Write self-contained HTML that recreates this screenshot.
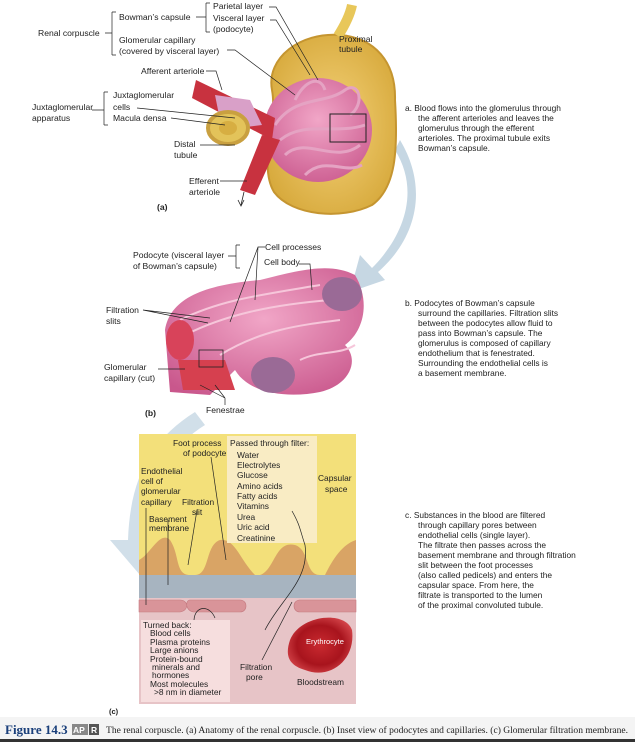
<!DOCTYPE html>
<html><head><style>
body{margin:0;background:#fff;}
svg{display:block;font-family:"Liberation Sans",Arial,sans-serif;}
</style></head><body>
<svg width="635" height="742" viewBox="0 0 635 742" xmlns="http://www.w3.org/2000/svg" font-size="8.6" fill="#222">
<defs>
<radialGradient id="cap" cx="0.5" cy="0.5" r="0.6"><stop offset="0" stop-color="#f4d27a"/><stop offset="1" stop-color="#d6a83a"/></radialGradient>
<radialGradient id="pk" cx="0.5" cy="0.4" r="0.7"><stop offset="0" stop-color="#f1a6c7"/><stop offset="1" stop-color="#c9578c"/></radialGradient>
<radialGradient id="ery" cx="0.5" cy="0.5" r="0.6"><stop offset="0" stop-color="#c92a30"/><stop offset="0.6" stop-color="#a8141d"/><stop offset="1" stop-color="#d94a4f"/></radialGradient>
</defs>
<!-- blue arrows -->
<path d="M395,150 C420,190 405,235 372,268 L360,255 L350,292 L385,280 L378,272 C415,240 430,190 400,140 Z" fill="#bcd0de" opacity="0.85"/>
<path d="M195,412 C150,440 130,480 128,540 L110,540 L140,575 L158,540 L142,540 C145,490 165,450 205,425 Z" fill="#c6d7e3" opacity="0.8"/>
<!-- Panel a -->
<path d="M272,90 C266,58 300,32 340,35 C375,38 396,62 395,100 C398,150 396,188 372,205 C342,220 292,216 274,192 C258,165 278,122 272,90Z" fill="url(#cap)" stroke="#c59530" stroke-width="2"/>
<path d="M338,36 C345,25 350,15 352,5" fill="none" stroke="#e8c75a" stroke-width="10"/>
<ellipse cx="318" cy="130" rx="54" ry="52" fill="url(#pk)"/>
<g fill="none" stroke="#e5a3c3" stroke-width="3">
<path d="M275,125 C295,95 325,105 345,90 C360,80 365,105 350,115"/>
<path d="M285,155 C305,135 335,165 360,145"/>
<path d="M295,100 C305,80 320,75 325,90"/>
<path d="M305,175 C325,155 345,175 362,165"/>
<path d="M280,140 C305,120 335,135 365,125"/>
</g>
<rect x="330" y="114" width="36" height="28" fill="none" stroke="#222" stroke-width="1"/>
<path d="M196,80 L275,118 L272,140 L192,98 Z" fill="#c8323f"/>
<path d="M215,95 L250,100 L262,125 L222,130Z" fill="#d9a0c8"/>
<ellipse cx="228" cy="128" rx="20" ry="16" fill="#e3c35a" stroke="#c9a040" stroke-width="4"/>
<ellipse cx="228" cy="128" rx="9" ry="7" fill="#d7ae42"/>
<path d="M240,190 L262,135 L280,140 L255,195 Z" fill="#c8323f"/>
<path d="M244,192 L241,205" stroke="#222" stroke-width="0.8"/>
<path d="M238,200 L241,206 L244,200" fill="none" stroke="#222" stroke-width="0.8"/>
<g stroke="#222" stroke-width="0.7" fill="none">
<path d="M105,33 H112 M112,12 V55 M112,12 H116 M112,55 H116"/>
<path d="M196,17 H206 M206,3 V32 M206,3 H210 M206,32 H210"/>
<path d="M269,7 H276 L318,80"/>
<path d="M270,20 H276 L310,75"/>
<path d="M227,50 H235 L295,95"/>
<path d="M206,71 H216 L222,90"/>
<path d="M92,110 H104 M104,92 V125 M104,92 H108 M104,125 H108"/>
<path d="M137,108 L235,118"/>
<path d="M171,118 L225,125"/>
<path d="M200,145 H235"/>
<path d="M220,181 H247"/>
</g>
<text x="38" y="36">Renal corpuscle</text>
<text x="119" y="20">Bowman’s capsule</text>
<text x="213" y="9">Parietal layer</text>
<text x="213" y="21">Visceral layer</text>
<text x="213" y="32">(podocyte)</text>
<text x="119" y="43">Glomerular capillary</text>
<text x="119" y="54">(covered by visceral layer)</text>
<text x="339" y="42">Proximal</text>
<text x="339" y="52">tubule</text>
<text x="141" y="74">Afferent arteriole</text>
<text x="32" y="110">Juxtaglomerular</text>
<text x="32" y="121">apparatus</text>
<text x="113" y="98">Juxtaglomerular</text>
<text x="113" y="110">cells</text>
<text x="113" y="121">Macula densa</text>
<text x="174" y="147">Distal</text>
<text x="174" y="158">tubule</text>
<text x="189" y="184">Efferent</text>
<text x="189" y="195">arteriole</text>
<text x="157" y="210" font-weight="bold">(a)</text>
<!-- Panel b -->
<path d="M165,330 C170,300 200,285 260,280 C300,270 330,262 355,275 C370,300 365,330 345,345 C360,360 350,385 320,392 C290,398 250,395 235,370 L210,395 L170,392 Z" fill="url(#pk)"/>
<g fill="none" stroke="#f6c6da" stroke-width="2">
<path d="M180,320 C220,300 260,295 320,285"/>
<path d="M185,335 C225,315 270,305 330,300"/>
<path d="M220,355 C260,330 300,325 340,320"/>
<path d="M300,360 C320,350 340,355 355,345"/>
</g>
<ellipse cx="342" cy="294" rx="20" ry="17" fill="#9a6a96"/>
<ellipse cx="273" cy="375" rx="22" ry="18" fill="#9a6a96"/>
<ellipse cx="180" cy="340" rx="14" ry="20" fill="#d8435a"/>
<path d="M178,360 L225,360 L235,390 L183,390Z" fill="#d6404f"/>
<rect x="199" y="350" width="24" height="17" fill="none" stroke="#222" stroke-width="0.8"/>
<g stroke="#222" stroke-width="0.7" fill="none">
<path d="M228,256 H236 M236,245 V268 M236,245 H240 M236,268 H240"/>
<path d="M265,247 H258 L230,322 M258,247 L255,300"/>
<path d="M299,264 H310 L312,290"/>
<path d="M143,310 L210,318 M143,310 L208,323"/>
<path d="M158,369 H185"/>
<path d="M225,398 L200,385 M225,398 L215,385 M225,398 V405"/>
</g>
<text x="133" y="258">Podocyte (visceral layer</text>
<text x="133" y="269">of Bowman’s capsule)</text>
<text x="265" y="250">Cell processes</text>
<text x="264" y="265">Cell body</text>
<text x="106" y="313">Filtration</text>
<text x="106" y="324">slits</text>
<text x="104" y="370">Glomerular</text>
<text x="104" y="381">capillary (cut)</text>
<text x="206" y="413">Fenestrae</text>
<text x="145" y="416" font-weight="bold">(b)</text>
<!-- Panel c -->
<rect x="139" y="434" width="217" height="270" fill="#f3e07a"/>
<path d="M139,560 C150,555 160,530 170,540 C180,555 175,575 190,575 L139,575Z M195,575 C210,575 205,545 220,540 C235,538 240,560 255,575Z M260,575 C275,570 275,540 295,545 C310,550 305,575 320,575Z M325,575 C330,565 340,545 356,540 L356,575Z" fill="#d9a465"/>
<rect x="139" y="575" width="217" height="23" fill="#a7b4c0"/>
<rect x="139" y="598" width="217" height="106" fill="#e7c4c7"/>
<path d="M139,600 H180 C188,600 190,610 180,612 H139Z M190,600 H240 C248,600 248,612 240,612 H195 C185,612 185,600 190,600Z M300,600 H356 V612 H300 C292,612 292,600 300,600Z" fill="#d99499" stroke="#c57a80" stroke-width="0.6"/>
<rect x="227" y="436" width="90" height="107" fill="#f9ecc4"/>
<rect x="141" y="620" width="89" height="82" fill="#f6dede"/>
<path d="M290,640 C300,615 345,610 352,630 C356,660 330,680 305,670 C288,665 285,655 290,640Z" fill="url(#ery)"/>
<g stroke="#222" stroke-width="0.7" fill="none">
<path d="M211,457 L226,560"/>
<path d="M197,510 L188,565"/>
<path d="M168,520 L168,585"/>
<path d="M146,508 V605"/>
<path d="M194,620 C195,605 210,605 215,618"/>
<path d="M265,630 C280,600 310,580 305,545 C300,530 300,525 292,511"/>
<path d="M262,660 L292,602"/>
</g>
<g font-size="8.4">
<text x="173" y="446">Foot process</text>
<text x="183" y="456">of podocyte</text>
<text x="230" y="446">Passed through filter:</text>
<text x="237" y="458">Water</text><text x="237" y="468">Electrolytes</text><text x="237" y="478">Glucose</text><text x="237" y="489">Amino acids</text><text x="237" y="499">Fatty acids</text><text x="237" y="509">Vitamins</text><text x="237" y="520">Urea</text><text x="237" y="530">Uric acid</text><text x="237" y="541">Creatinine</text>
<text x="318" y="481">Capsular</text><text x="325" y="492">space</text>
<text x="141" y="474">Endothelial</text><text x="141" y="484">cell of</text><text x="141" y="494">glomerular</text><text x="141" y="505">capillary</text>
<text x="182" y="505">Filtration</text><text x="192" y="515">slit</text>
<text x="149" y="522">Basement</text><text x="149" y="531">membrane</text>
<text x="143" y="628">Turned back:</text>
<text x="150" y="636">Blood cells</text><text x="150" y="645">Plasma proteins</text><text x="150" y="653">Large anions</text><text x="150" y="662">Protein-bound</text><text x="152" y="670">minerals and</text><text x="152" y="678">hormones</text><text x="150" y="687">Most molecules</text><text x="154" y="695">&gt;8 nm in diameter</text>
<text x="240" y="670">Filtration</text><text x="246" y="680">pore</text>
<text x="297" y="685">Bloodstream</text>
<text x="306" y="644" fill="#fff" font-size="7.5">Erythrocyte</text>
</g>
<text x="109" y="714" font-weight="bold" font-size="7.5">(c)</text>
<!-- right text -->
<g font-size="8.4">
<text x="405" y="111">a. Blood flows into the glomerulus through</text>
<text x="418" y="121">the afferent arterioles and leaves the</text>
<text x="418" y="131">glomerulus through the efferent</text>
<text x="418" y="141">arterioles. The proximal tubule exits</text>
<text x="418" y="151">Bowman’s capsule.</text>
<text x="405" y="306">b. Podocytes of Bowman’s capsule</text>
<text x="418" y="316">surround the capillaries. Filtration slits</text>
<text x="418" y="326">between the podocytes allow fluid to</text>
<text x="418" y="336">pass into Bowman’s capsule. The</text>
<text x="418" y="346">glomerulus is composed of capillary</text>
<text x="418" y="356">endothelium that is fenestrated.</text>
<text x="418" y="366">Surrounding the endothelial cells is</text>
<text x="418" y="376">a basement membrane.</text>
<text x="405" y="518">c. Substances in the blood are filtered</text>
<text x="418" y="528">through capillary pores between</text>
<text x="418" y="538">endothelial cells (single layer).</text>
<text x="418" y="548">The filtrate then passes across the</text>
<text x="418" y="558">basement membrane and through filtration</text>
<text x="418" y="568">slit between the foot processes</text>
<text x="418" y="578">(also called pedicels) and enters the</text>
<text x="418" y="588">capsular space. From here, the</text>
<text x="418" y="598">filtrate is transported to the lumen</text>
<text x="418" y="608">of the proximal convoluted tubule.</text>
</g>
<!-- caption -->
<rect x="0" y="717" width="635" height="25" fill="#f4f4f4"/>
<rect x="0" y="739" width="635" height="3" fill="#333"/>
<text x="5" y="734" font-family="Liberation Serif,serif" font-size="13" fill="#1a3f7a" font-weight="bold">Figure 14.3</text>
<rect x="72" y="724" width="16" height="11" fill="#888"/><text x="73" y="733" font-size="8.5" fill="#fff" font-weight="bold">AP</text>
<rect x="89" y="724" width="10" height="11" fill="#555"/><text x="91" y="733" font-size="8.5" fill="#fff" font-weight="bold">R</text>
<text x="106" y="733" font-family="Liberation Serif,serif" font-size="9" textLength="522" lengthAdjust="spacingAndGlyphs">The renal corpuscle. (a) Anatomy of the renal corpuscle. (b) Inset view of podocytes and capillaries. (c) Glomerular filtration membrane.</text>
</svg>
</body></html>
